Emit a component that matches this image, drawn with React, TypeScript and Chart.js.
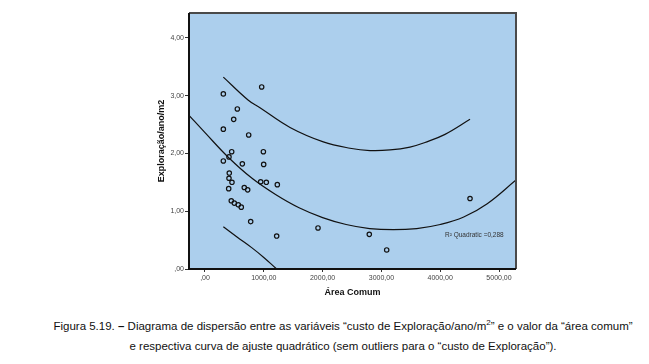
import React, { useEffect, useRef } from "react";
import { Chart, registerables } from "chart.js";

Chart.register(...registerables);

// Scatter data (Área Comum vs custo de Exploração/ano/m2)
const areaComum = [312, 964, 550, 488, 312, 743, 454, 993, 408, 312, 635, 998, 413, 408, 459, 947, 1043, 1230, 403, 668, 726, 447, 498, 566, 617, 777, 1219, 1922, 2794, 3090, 4507];
const custoExploracao = [3.03, 3.15, 2.77, 2.59, 2.42, 2.32, 2.03, 2.03, 1.94, 1.87, 1.82, 1.81, 1.66, 1.57, 1.5, 1.51, 1.5, 1.46, 1.39, 1.41, 1.37, 1.18, 1.14, 1.11, 1.07, 0.82, 0.57, 0.71, 0.6, 0.33, 1.22];

// Quadratic fit curve
const fitX = [-272, 0, 400, 800, 1200, 1600, 2000, 2400, 2800, 3200, 3600, 4000, 4400, 4800, 5289];
const fitY = [2.66, 2.36, 1.93, 1.57, 1.29, 1.06, 0.89, 0.77, 0.7, 0.68, 0.7, 0.77, 0.9, 1.13, 1.54];

// Prediction interval curves
const upperX = [312, 737, 935, 1446, 2012, 2466, 2806, 3146, 3486, 3741, 4082, 4507];
const upperY = [3.32, 2.92, 2.79, 2.45, 2.2, 2.09, 2.05, 2.06, 2.11, 2.19, 2.33, 2.59];
const lowerX = [312, 550, 794, 1000, 1219, 1500];
const lowerY = [0.73, 0.55, 0.37, 0.2, 0.0, -0.24];

// Axis ticks
const xTickValues = [0, 1000, 2000, 3000, 4000, 5000];
const xTickLabels = [",00", "1000,00", "2000,00", "3000,00", "4000,00", "5000,00"];
const yTickValues = [0, 1, 2, 3, 4];
const yTickLabels = [",00", "1,00", "2,00", "3,00", "4,00"];

const xTitle = "Área Comum";
const yTitle = "Exploração/ano/m2";
const r2Label = "R² Quadratic =0,288";

const W = 649;
const H = 305;

const plotDecor = {
  id: "plotDecor",
  beforeDraw(chart: any) {
    const { ctx, chartArea: a } = chart;
    ctx.save();
    ctx.fillStyle = "#accfed";
    ctx.fillRect(a.left, a.top, a.right - a.left, a.bottom - a.top);
    ctx.restore();
  },
  afterDraw(chart: any) {
    const { ctx, chartArea: a } = chart;
    ctx.save();
    ctx.lineWidth = 2;
    ctx.strokeStyle = "#4a4a4a";
    ctx.beginPath();
    ctx.moveTo(a.left, a.top);
    ctx.lineTo(a.right, a.top);
    ctx.lineTo(a.right, a.bottom);
    ctx.stroke();
    ctx.strokeStyle = "#111";
    ctx.beginPath();
    ctx.moveTo(a.left, a.top);
    ctx.lineTo(a.left, a.bottom);
    ctx.lineTo(a.right, a.bottom);
    ctx.stroke();
    ctx.fillStyle = "#333";
    ctx.font = "6.5px Arial, 'Liberation Sans', sans-serif";
    ctx.textBaseline = "middle";
    ctx.textAlign = "left";
    ctx.fillText(r2Label, a.right - 71, a.bottom - 34);
    ctx.restore();
  },
};

export default function App() {
  const ref = useRef<HTMLCanvasElement | null>(null);
  useEffect(() => {
    if (!ref.current) return;
    const pts = areaComum.map((x, i) => ({ x, y: custoExploracao[i] }));
    const line = (xs: number[], ys: number[]) => xs.map((x, i) => ({ x, y: ys[i] }));
    const lineStyle = {
      type: "line" as const,
      borderColor: "#111",
      borderWidth: 1.2,
      pointRadius: 0,
      fill: false,
      tension: 0.4,
    };
    const chart = new Chart(ref.current, {
      type: "scatter",
      data: {
        datasets: [
          { ...lineStyle, data: line(fitX, fitY) },
          { ...lineStyle, data: line(upperX, upperY) },
          { ...lineStyle, data: line(lowerX, lowerY) },
          {
            type: "scatter",
            data: pts,
            pointRadius: 2.2,
            pointBorderWidth: 1.2,
            pointBorderColor: "#111",
            pointBackgroundColor: "rgba(0,0,0,0)",
          },
        ],
      },
      options: {
        animation: false,
        responsive: false,
        devicePixelRatio: 1,
        layout: { padding: { left: 154, top: 13, right: 133, bottom: 0 } },
        plugins: { legend: { display: false }, tooltip: { enabled: false } },
        scales: {
          x: {
            type: "linear",
            min: -272,
            max: 5289,
            afterFit: (s: any) => { s.height = 36; },
            afterBuildTicks: (s: any) => { s.ticks = xTickValues.map((v) => ({ value: v })); },
            grid: { drawOnChartArea: false, drawTicks: true, tickLength: 3, color: "#333" },
            border: { display: false },
            ticks: {
              font: { size: 7, family: "Arial, 'Liberation Sans', sans-serif" },
              color: "#444",
              padding: 2,
              maxRotation: 0,
              autoSkip: false,
              callback: (v: any) => xTickLabels[xTickValues.indexOf(Number(v))] ?? "",
            },
            title: {
              display: true,
              text: xTitle,
              color: "#111",
              font: { size: 9, weight: "bold", family: "Arial, 'Liberation Sans', sans-serif" },
              padding: { top: 0, bottom: 7 },
            },
          },
          y: {
            type: "linear",
            min: 0,
            max: 4.43,
            afterFit: (s: any) => { s.width = 35; },
            afterBuildTicks: (s: any) => { s.ticks = yTickValues.map((v) => ({ value: v })); },
            grid: { drawOnChartArea: false, drawTicks: true, tickLength: 4, color: "#333" },
            border: { display: false },
            ticks: {
              font: { size: 7, family: "Arial, 'Liberation Sans', sans-serif" },
              color: "#444",
              padding: 1,
              autoSkip: false,
              callback: (v: any) => yTickLabels[yTickValues.indexOf(Number(v))] ?? "",
            },
            title: {
              display: true,
              text: yTitle,
              color: "#111",
              font: { size: 9, weight: "bold", family: "Arial, 'Liberation Sans', sans-serif" },
              padding: { top: 2, bottom: 0 },
            },
          },
        },
      },
      plugins: [plotDecor],
    });
    return () => chart.destroy();
  }, []);

  const cap: React.CSSProperties = {
    position: "absolute",
    left: 0,
    width: 686,
    textAlign: "center",
    fontFamily: "'Liberation Sans Narrow', 'Arial Narrow', Arial, sans-serif",
    fontSize: 11.5,
    color: "#111",
    whiteSpace: "nowrap",
    lineHeight: "14px",
  };

  return (
    <div style={{ position: "absolute", left: 0, top: 0, width: W, height: 364, background: "#fff" }}>
      <canvas ref={ref} width={W} height={H} style={{ display: "block", width: W, height: H }} />
      <div style={{ ...cap, top: 319 }}>
        Figura 5.19. <b>–</b> Diagrama de dispersão entre as variáveis “custo de Exploração/ano/m
        <sup style={{ fontSize: 8, lineHeight: 0 }}>2</sup>” e o valor da “área comum”
      </div>
      <div style={{ ...cap, top: 339 }}>
        e respectiva curva de ajuste quadrático (sem outliers para o “custo de Exploração”).
      </div>
    </div>
  );
}
